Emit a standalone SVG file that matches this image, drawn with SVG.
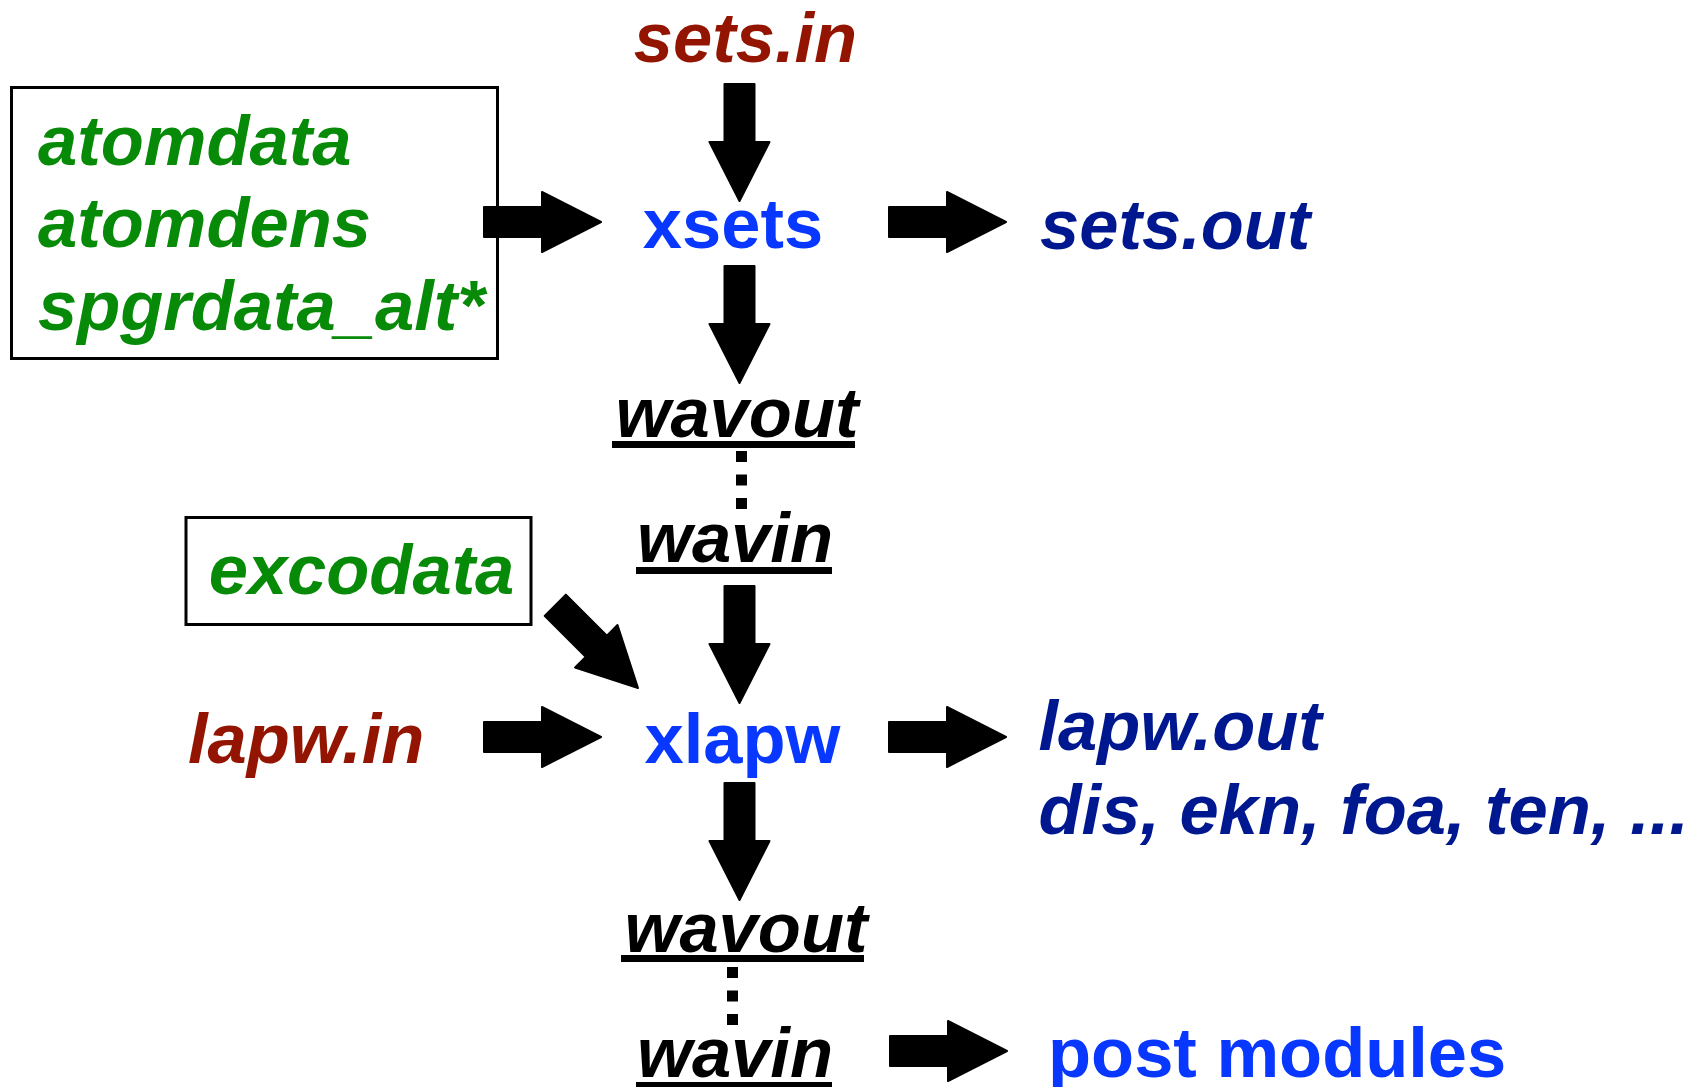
<svg xmlns="http://www.w3.org/2000/svg" xmlns:xlink="http://www.w3.org/1999/xlink" width="1688" height="1087" viewBox="0 0 1688 1087">
  <style>
    text { font-family: "Liberation Sans", Arial, sans-serif; font-weight: bold; font-size: 70.5px; }
    .it { font-style: italic; }
    .input { fill: #931400; }
    .prog { fill: #0838FF; }
    .out { fill: #00188F; }
    .data { fill: #078A07; }
    .file { fill: #000000; }
    .frame { fill: none; stroke: #000000; stroke-width: 3; }
    .uline { fill: #000000; }
    .dots { stroke: #000000; stroke-width: 11; stroke-dasharray: 11 12.5; fill: none; }
    .arrow { fill: #000000; stroke: #000000; stroke-width: 2; stroke-linejoin: round; }
  </style>
  <defs>
    <!-- block arrow, tip at the origin, pointing along +x -->
    <polygon id="blockArrow" points="-117,-15 -59,-15 -59,-30 0,0 -59,30 -59,15 -117,15"/>
  </defs>
  <rect width="1688" height="1087" fill="#ffffff"/>

  <!-- nodes -->
  <g id="sets-in">
    <text class="it input" x="745.5" y="62" text-anchor="middle">sets.in</text>
  </g>
  <g id="data-files">
    <rect class="frame" x="11.5" y="87.5" width="486" height="271"/>
    <text class="it data" x="38" y="165">atomdata</text>
    <text class="it data" x="38" y="247">atomdens</text>
    <text class="it data" x="38" y="330">spgrdata_alt*</text>
  </g>
  <g id="xsets">
    <text class="prog" x="733" y="248" text-anchor="middle">xsets</text>
  </g>
  <g id="sets-out">
    <text class="it out" x="1040" y="249">sets.out</text>
  </g>
  <g id="wavout-1">
    <text class="it file" x="737" y="437" text-anchor="middle">wavout</text>
    <rect class="uline" x="612" y="441" width="243" height="7"/>
  </g>
  <g id="wavin-1">
    <text class="it file" x="735" y="562" text-anchor="middle">wavin</text>
    <rect class="uline" x="636" y="567" width="196" height="7"/>
  </g>
  <g id="excodata">
    <rect class="frame" x="186" y="517.5" width="345" height="107"/>
    <text class="it data" x="361.5" y="594" text-anchor="middle">excodata</text>
  </g>
  <g id="lapw-in">
    <text class="it input" x="188" y="763">lapw.in</text>
  </g>
  <g id="xlapw">
    <text class="prog" x="742.5" y="763" text-anchor="middle">xlapw</text>
  </g>
  <g id="lapw-out">
    <text class="it out" x="1038.5" y="750">lapw.out</text>
    <text class="it out" x="1038.5" y="834">dis, ekn, foa, ten, ...</text>
  </g>
  <g id="wavout-2">
    <text class="it file" x="746" y="952" text-anchor="middle">wavout</text>
    <rect class="uline" x="621" y="955" width="243" height="7"/>
  </g>
  <g id="wavin-2">
    <text class="it file" x="735" y="1077" text-anchor="middle">wavin</text>
    <rect class="uline" x="636" y="1082" width="196" height="7"/>
  </g>
  <g id="post-modules">
    <text class="prog" x="1048" y="1077">post modules</text>
  </g>

  <!-- connectors -->
  <g id="connectors" class="arrow">
    <use xlink:href="#blockArrow" transform="translate(739.5,201) rotate(90)"/>
    <use xlink:href="#blockArrow" transform="translate(601,222)"/>
    <use xlink:href="#blockArrow" transform="translate(1006,222)"/>
    <use xlink:href="#blockArrow" transform="translate(739.5,383) rotate(90)"/>
    <line class="dots" x1="741.5" y1="451" x2="741.5" y2="510"/>
    <use xlink:href="#blockArrow" transform="translate(739.5,703) rotate(90)"/>
    <use xlink:href="#blockArrow" transform="translate(638,688) rotate(45)"/>
    <use xlink:href="#blockArrow" transform="translate(601,737)"/>
    <use xlink:href="#blockArrow" transform="translate(1006,737)"/>
    <use xlink:href="#blockArrow" transform="translate(739.5,900) rotate(90)"/>
    <line class="dots" x1="732.5" y1="967" x2="732.5" y2="1026"/>
    <use xlink:href="#blockArrow" transform="translate(1007,1051)"/>
  </g>
</svg>
